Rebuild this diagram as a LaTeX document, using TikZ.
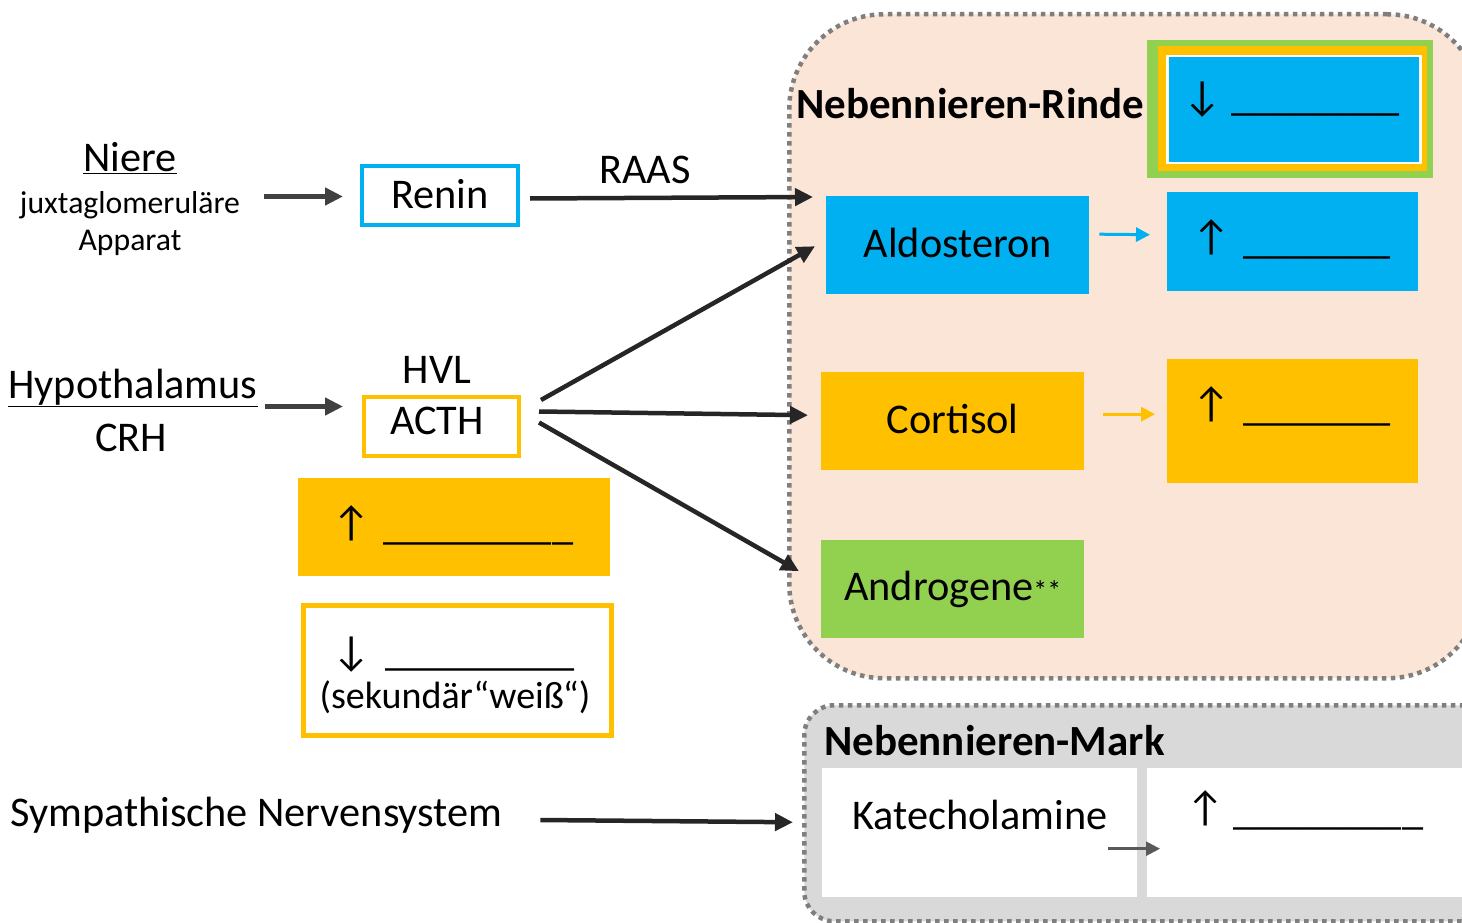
\documentclass[tikz,border=0pt]{standalone}
\usepackage{fontspec}
\setmainfont{Carlito}
\usetikzlibrary{arrows.meta,calc}
\definecolor{cblue}{HTML}{00B0F0}
\definecolor{corange}{HTML}{FFC000}
\definecolor{cgreen}{HTML}{92D050}
\definecolor{cpeach}{HTML}{FBE5D6}
\definecolor{cgray}{HTML}{D9D9D9}
\definecolor{cdot}{HTML}{7F7F7F}
\definecolor{carr}{HTML}{262626}
\definecolor{carrb}{HTML}{404040}
\definecolor{carrc}{HTML}{595959}
\newcommand\carup[1]{\raisebox{3pt}{↑}\hspace{#1pt}}
\newcommand\cardown[1]{↓\hspace{#1pt}}
\tikzset{
  big/.style={font=\fontsize{42.3}{50}\selectfont, inner sep=0},
  small/.style={font=\fontsize{31.7}{38}\selectfont, inner sep=0},
  bold/.style={font=\fontsize{43}{50}\selectfont\bfseries, inner sep=0},
  region/.style={draw=cdot, line width=4.5, dash pattern=on 4.5 off 4.5, anchor=north west, inner sep=0},
  fbox/.style={anchor=north west, inner sep=0, big},
  obox/.style={anchor=north west, inner sep=0, big, line width=4},
  arrL/.style={draw=carrb, line width=4.5, -{Triangle[length=18,width=17]}},
  arrK/.style={draw=carr, line width=4.5, -{Triangle[length=18,width=17]}},
  arrS/.style={line width=3, -{Triangle[length=14,width=14]}},
}
\begin{document}
\begin{tikzpicture}[x=1pt,y=-1pt]
\useasboundingbox (0,0) rectangle (1462,923);
\clip (0,0) rectangle (1462,923);
% regions
\node[region, fill=cpeach, minimum width=693, minimum height=664, rounded corners=95] (rinde) at (787,12) {};
\node[region, fill=cgray, minimum width=690, minimum height=216, rounded corners=30] (mark) at (802,703) {};
\node[bold, anchor=west] (rindetitle) at (796,104) {Nebennieren-Rinde};
\node[bold, anchor=west] (marktitle) at (824,741) {Nebennieren-Mark};
% top right box
\node[fbox, fill=cgreen, minimum width=286, minimum height=138] (tg) at (1147,40) {};
\node[fbox, fill=corange, minimum width=269, minimum height=125] (to) at (1158,46) {};
\node[fbox, fill=cblue, draw=white, line width=2.5, minimum width=253, minimum height=107] (tb) at (1166,55) {};
\node[big, anchor=base west] (tbt) at (1183,111) {\cardown{10}\_\_\_\_\_\_\_\_};
% cortex boxes
\node[fbox, fill=cblue, minimum width=263, minimum height=98] (aldo) at (826,196) {\raisebox{4pt}{Aldosteron}};
\node[fbox, fill=cblue, minimum width=251, minimum height=99] (aldor) at (1167,192) {};
\node[big, anchor=base west] (aldort) at (1192,253) {\carup{13}\_\_\_\_\_\_\_};
\node[fbox, fill=corange, minimum width=263, minimum height=98] (cort) at (821,372) {\raisebox{5pt}{Cortisol}};
\node[fbox, fill=corange, minimum width=251, minimum height=124] (cortr) at (1167,359) {};
\node[big, anchor=base west] (cortrt) at (1192,420) {\carup{13}\_\_\_\_\_\_\_};
\node[fbox, fill=cgreen, minimum width=263, minimum height=98] (andro) at (821,540) {\raisebox{5pt}{Androgene{\fontsize{28}{30}\selectfont **}}};
\draw[arrS, draw=cblue] ($(aldo.east)+(10,-11)$) -- ($(aldor.west)+(-17,-7)$);
\draw[arrS, draw=corange] ($(cort.east)+(19,-7)$) -- ($(cortr.west)+(-12,-7)$);
% medulla
\node[fbox, fill=white, minimum width=315, minimum height=129] (kat) at (822,768) {};
\node[big] (katt) at (980,815) {Katecholamine};
\node[fbox, fill=white, minimum width=330, minimum height=129] (katr) at (1147,768) {};
\node[big, anchor=base west] (katrt) at (1186,824) {\carup{9}\_\_\_\_\_\_\_\_\_};
\draw[arrS, draw=carrc, line width=2.5] ($(kat.east)+(-29,16)$) -- ($(katr.west)+(13,16)$);
% left side
\node[big] (niere) at (130,158) {\underline{Niere}};
\node[small] (juxta) at (130,205) {juxtaglomeruläre};
\node[small] (app) at (130,243) {Apparat};
\node[obox, draw=cblue, fill=white, minimum width=156, minimum height=59] (renin) at (360,164) {\raisebox{3pt}{Renin}};
\node[big] (raas) at (645,170) {RAAS};
\node[big] (hypo) at (133,388) {\underline{Hypothalamus}};
\node[big] (crh) at (131,438) {CRH};
\node[big] (hvl) at (437,370) {HVL};
\node[obox, draw=corange, fill=white, minimum width=155, minimum height=59] (acth) at (362,395) {};
\node[big] (actht) at (437,421) {ACTH};
\node[fbox, fill=corange, minimum width=312, minimum height=98] (lo) at (298,478) {};
\node[big, anchor=base west] (lot) at (332,539) {\carup{13}\_\_\_\_\_\_\_\_\_};
\node[obox, draw=corange, line width=5, fill=white, minimum width=308, minimum height=130] (lw) at (300.5,602.5) {};
\node[big, anchor=base west] (lwt) at (332,665) {\cardown{15}\_\_\_\_\_\_\_\_\_};
\node[big, font=\fontsize{38}{44}\selectfont] (sek) at (455,697) {(sekundär“weiß“)};
\node[big, anchor=west] (symp) at (10,815) {Sympathische Nervensystem};
% connectors
\draw[arrL] ($(juxta.east |- renin.west)+(24,1)$) -- ($(renin.west)+(-17,1)$);
\draw[arrK] ($(renin.east)+(10,3)$) -- ($(aldo.north west)+(-13,1)$);
\draw[arrL] ($(hypo.east |- acth.west)+(7,-20)$) -- ($(acth.west)+(-19,-20)$);
\draw[arrK] ($(acth.north east)+(20,5)$) -- ($(aldo.west)+(-11,1)$);
\draw[arrK] ($(acth.east)+(18,-15)$) -- ($(cort.west)+(-13,-6)$);
\draw[arrK] ($(acth.east)+(18,-4)$) -- ($(andro.west)+(-22,-18)$);
\draw[arrK] ($(symp.east)+(38,5)$) -- ($(mark.west)+(-9,9)$);
\end{tikzpicture}
\end{document}
